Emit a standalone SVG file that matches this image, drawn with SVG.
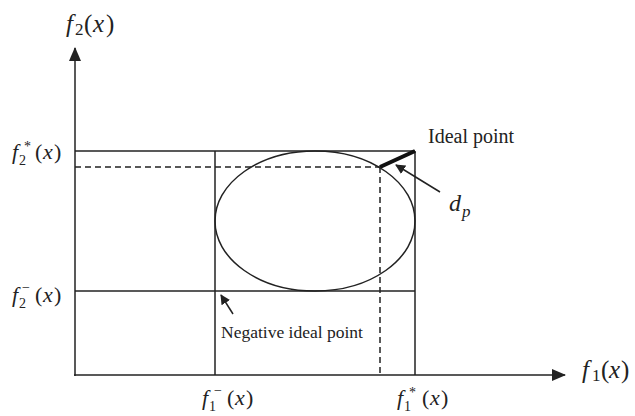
<svg xmlns="http://www.w3.org/2000/svg" width="635" height="416" viewBox="0 0 635 416">
<style>
.ln{stroke:#222;stroke-width:1.5;fill:none}
.ds{stroke:#222;stroke-width:1.5;fill:none;stroke-dasharray:6,4}
.t{font-family:"Liberation Serif",serif;fill:#222}
.i{font-style:italic}
.s{font-size:14px}
</style>
<defs>
<marker id="ah" viewBox="0 0 10 10" refX="9" refY="5" markerWidth="10" markerHeight="10" markerUnits="userSpaceOnUse" orient="auto"><path d="M0,0 L10,5 L0,10 z" fill="#222"/></marker>
<marker id="axh" viewBox="0 0 14 12" refX="13" refY="6" markerWidth="14" markerHeight="12" markerUnits="userSpaceOnUse" orient="auto"><path d="M0,0 L14,6 L0,12 z" fill="#222"/></marker>
</defs>
<g id="connectors">
<line class="ln" x1="75" y1="376" x2="75" y2="48" marker-end="url(#axh)"/>
<line class="ln" x1="74" y1="375" x2="565" y2="375" marker-end="url(#axh)"/>
<line class="ln" x1="75" y1="151" x2="415" y2="151"/>
<line class="ln" x1="75" y1="291" x2="415" y2="291"/>
<line class="ln" x1="215" y1="151" x2="215" y2="375"/>
<line class="ln" x1="415" y1="151" x2="415" y2="375"/>
<line class="ds" x1="75" y1="167" x2="380" y2="167"/>
<line class="ds" x1="380" y1="167" x2="380" y2="375"/>
<line x1="380" y1="167" x2="415" y2="151" stroke="#111" stroke-width="4"/>
<line class="ln" x1="440" y1="192" x2="396" y2="165" marker-end="url(#ah)"/>
<line class="ln" x1="233" y1="314" x2="221" y2="295" marker-end="url(#ah)"/>
</g>
<g id="ellipse"><ellipse class="ln" cx="315" cy="221" rx="100" ry="70"/></g>
<g id="ideal"><text class="t" x="428" y="143" font-size="20">Ideal point</text></g>
<g id="neg-ideal"><text class="t" x="221" y="338" font-size="17.5">Negative ideal point</text></g>
<g id="dp"><text class="t i" font-size="24"><tspan x="449" y="211">d</tspan><tspan x="462" y="217" font-size="17">p</tspan></text></g>
<g id="f2-axis"><text class="t" font-size="25"><tspan class="i" x="66" y="32">f</tspan><tspan x="75" y="35" font-size="17">2</tspan><tspan x="84" y="32">(</tspan><tspan class="i" x="93" y="32">x</tspan><tspan x="106" y="32">)</tspan></text></g>
<g id="f1-axis"><text class="t" font-size="25"><tspan class="i" x="582" y="378">f</tspan><tspan x="592" y="381" font-size="17">1</tspan><tspan x="601" y="378">(</tspan><tspan class="i" x="609" y="378">x</tspan><tspan x="621" y="378">)</tspan></text></g>
<g id="f2star"><text class="t" font-size="22"><tspan class="i" x="12" y="159">f</tspan><tspan class="s" x="19" y="165">2</tspan><tspan class="s" x="24" y="151">*</tspan><tspan x="35" y="159">(</tspan><tspan class="i" x="43" y="159">x</tspan><tspan x="54" y="159">)</tspan></text></g>
<g id="f2minus"><text class="t" font-size="22"><tspan class="i" x="12" y="302">f</tspan><tspan class="s" x="19" y="308">2</tspan><tspan class="s" x="22" y="292">−</tspan><tspan x="35" y="302">(</tspan><tspan class="i" x="43" y="302">x</tspan><tspan x="54" y="302">)</tspan></text></g>
<g id="f1minus"><text class="t" font-size="22"><tspan class="i" x="202" y="405">f</tspan><tspan class="s" x="209" y="411">1</tspan><tspan class="s" x="214" y="395">−</tspan><tspan x="227" y="405">(</tspan><tspan class="i" x="235" y="405">x</tspan><tspan x="246" y="405">)</tspan></text></g>
<g id="f1star"><text class="t" font-size="22"><tspan class="i" x="397" y="405">f</tspan><tspan class="s" x="404" y="411">1</tspan><tspan class="s" x="409" y="397">*</tspan><tspan x="422" y="405">(</tspan><tspan class="i" x="430" y="405">x</tspan><tspan x="441" y="405">)</tspan></text></g>
</svg>
